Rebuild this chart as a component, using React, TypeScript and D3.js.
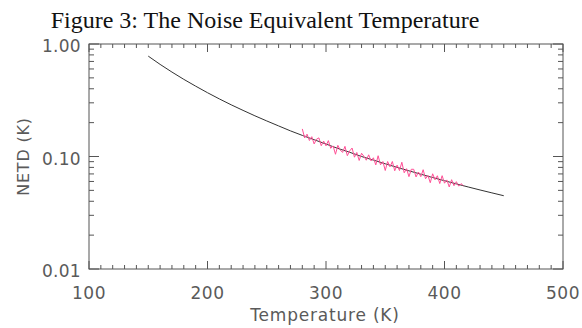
import React from 'react';
import * as d3 from 'd3';

// model curve (K vs K)
const modelTemps = [150, 160, 170, 180, 190, 200, 210, 220, 230, 240, 250, 260, 270, 280, 290, 300,
  310, 320, 330, 340, 350, 360, 370, 380, 390, 400, 410, 420, 430, 440, 450];
const modelNetd = [0.780, 0.659, 0.563, 0.485, 0.422, 0.369, 0.325, 0.288, 0.257, 0.230, 0.207, 0.187,
  0.169, 0.154, 0.141, 0.129, 0.118, 0.109, 0.100, 0.0929, 0.0861, 0.0800, 0.0746, 0.0696, 0.0650,
  0.0609, 0.0571, 0.0536, 0.0504, 0.0475, 0.0448];

// measured points (pink)
const measTemps = [280, 282, 284, 286, 288, 290, 292, 294, 296, 298, 300, 302, 304, 306, 308, 310,
  312, 314, 316, 318, 320, 322, 324, 326, 328, 330, 332, 334, 336, 338, 340, 342, 344, 346, 348, 350,
  352, 354, 356, 358, 360, 362, 364, 366, 368, 370, 372, 374, 376, 378, 380, 382, 384, 386, 388, 390,
  392, 394, 396, 398, 400, 402, 404, 406, 408, 410, 412, 414, 416];
const measNetd = [0.1759, 0.1463, 0.1579, 0.1387, 0.1500, 0.1294, 0.1425, 0.1464, 0.1247, 0.1371,
  0.1244, 0.1384, 0.1182, 0.1241, 0.1047, 0.1256, 0.1142, 0.1087, 0.1231, 0.1017, 0.1121, 0.1189,
  0.0986, 0.1086, 0.0922, 0.1069, 0.1005, 0.0927, 0.1035, 0.0914, 0.0974, 0.0842, 0.1016, 0.0844,
  0.0902, 0.0751, 0.0902, 0.0809, 0.0903, 0.0747, 0.0838, 0.0750, 0.0889, 0.0717, 0.0779, 0.0662,
  0.0770, 0.0770, 0.0658, 0.0728, 0.0662, 0.0763, 0.0634, 0.0679, 0.0585, 0.0702, 0.0621, 0.0674,
  0.0575, 0.0675, 0.0579, 0.0619, 0.0536, 0.0622, 0.0550, 0.0597, 0.0545, 0.0574, 0.0549];

const xTickLabels = ['100', '200', '300', '400', '500'];
const yTickLabels = ['1.00', '0.10', '0.01'];

const W = 582, H = 328;
const L = 89, R = 563, T = 44, B = 269;
const axisFont = '"DejaVu Sans", sans-serif';
const axisCol = '#555';
const textCol = '#5a5a5a';

export default function App() {
  const x = d3.scaleLinear().domain([100, 500]).range([L, R]);
  const y = d3.scaleLog().domain([0.01, 1]).range([B, T]);

  const line = d3.line<[number, number]>()
    .x(d => x(d[0]))
    .y(d => y(d[1]));

  const model = modelTemps.map((t, i) => [t, modelNetd[i]] as [number, number]);
  const meas = measTemps.map((t, i) => [t, measNetd[i]] as [number, number]);

  const xMinor = d3.range(100, 501, 10);
  const yMinor: number[] = [];
  [0.01, 0.1].forEach(base => {
    for (let k = 2; k <= 9; k++) yMinor.push(base * k);
  });
  const yMajor = [1, 0.1, 0.01];

  return (
    <svg width={W} height={H} style={{ position: 'absolute', left: 0, top: 0, background: '#fff' }}>
      <text x={265} y={28} textAnchor="middle" fontFamily='"Liberation Serif", serif' fontSize={24} fill="#111">
        Figure 3: The Noise Equivalent Temperature
      </text>

      <rect x={L} y={T} width={R - L} height={B - T} fill="none" stroke={axisCol} strokeWidth={1} />

      {xMinor.map(v => {
        const major = v % 100 === 0;
        const len = major ? 8 : 4;
        return (
          <g key={'x' + v}>
            <line x1={x(v)} x2={x(v)} y1={B} y2={B - len} stroke={axisCol} />
            <line x1={x(v)} x2={x(v)} y1={T} y2={T + len} stroke={axisCol} />
          </g>
        );
      })}
      {yMinor.map(v => (
        <g key={'ym' + v}>
          <line x1={L} x2={L + 5} y1={y(v)} y2={y(v)} stroke={axisCol} />
          <line x1={R} x2={R - 5} y1={y(v)} y2={y(v)} stroke={axisCol} />
        </g>
      ))}
      {yMajor.map(v => (
        <g key={'yM' + v}>
          <line x1={L} x2={L + 10} y1={y(v)} y2={y(v)} stroke={axisCol} />
          <line x1={R} x2={R - 10} y1={y(v)} y2={y(v)} stroke={axisCol} />
        </g>
      ))}

      {xTickLabels.map(s => (
        <text key={s} x={x(+s)} y={299} textAnchor="middle" fontFamily={axisFont} fontSize={17}
          letterSpacing={0.5} fill={textCol}>
          {s}
        </text>
      ))}
      {yTickLabels.map(s => (
        <text key={s} x={81} y={y(+s) + 8} textAnchor="end" fontFamily={axisFont} fontSize={17}
          letterSpacing={0.3} fill={textCol}>
          {s}
        </text>
      ))}

      <text x={325} y={321} textAnchor="middle" fontFamily={axisFont} fontSize={17}
        letterSpacing={0.8} fill={textCol}>
        Temperature (K)
      </text>
      <text transform={`translate(29, ${(T + B) / 2}) rotate(-90)`} textAnchor="middle"
        fontFamily={axisFont} fontSize={16} letterSpacing={0.8} fill={textCol}>
        NETD (K)
      </text>

      <path d={line(model) || ''} fill="none" stroke="#333" strokeWidth={1} />
      <path d={line(meas) || ''} fill="none" stroke="#ff4f96" strokeWidth={1} />
    </svg>
  );
}
